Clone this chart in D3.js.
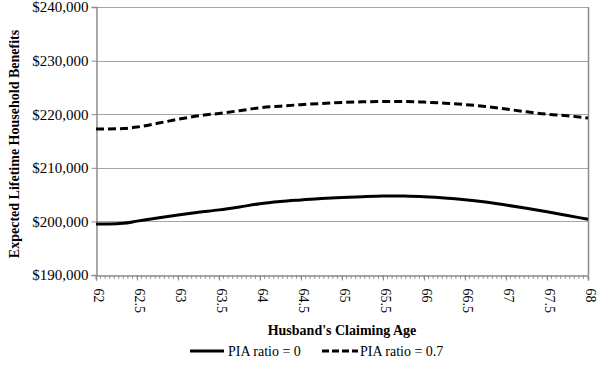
<!DOCTYPE html>
<html>
<head>
<meta charset="utf-8">
<script src="https://cdn.jsdelivr.net/npm/d3@7"></script>
<style>
  html, body { margin: 0; padding: 0; background: #fff; }
  svg { display: block; }
  text { font-family: "Liberation Serif", "Times New Roman", serif; fill: #000; }
</style>
</head>
<body>
<svg id="chart" width="600" height="366"></svg>
<script>
// ---- data ----
const ages = [62, 62.25, 62.333, 62.5, 62.75, 63, 63.25, 63.5, 63.75, 64, 64.25, 64.5, 64.75,
              65, 65.25, 65.5, 65.75, 66, 66.25, 66.5, 66.75, 67, 67.25, 67.5, 67.75, 68];
const piaRatio0 = [199500, 199550, 199650, 200050, 200650, 201200, 201700, 202150, 202700, 203300,
                   203700, 204000, 204280, 204480, 204620, 204720, 204740, 204600, 204380, 204050,
                   203600, 203050, 202450, 201800, 201100, 200400];
const piaRatio07 = [217250, 217280, 217330, 217600, 218300, 219050, 219700, 220150, 220650, 221200,
                    221500, 221780, 222000, 222180, 222300, 222380, 222390, 222260, 222050, 221800,
                    221450, 220950, 220450, 220000, 219700, 219300];
const seriesNames = ["PIA ratio = 0", "PIA ratio = 0.7"];
const yTicks = [190000, 200000, 210000, 220000, 230000, 240000];
const xTickLabels = [62, 62.5, 63, 63.5, 64, 64.5, 65, 65.5, 66, 66.5, 67, 67.5, 68];
const xTitle = "Husband's Claiming Age";
const yTitle = "Expected Lifetime Household Benefits";

// ---- layout ----
const svg = d3.select("#chart");
const L = 96, R = 588, T = 7, B = 275;
const x = d3.scaleLinear().domain([62, 68]).range([L, R]);
const y = d3.scaleLinear().domain([190000, 240000]).range([B, T]);

// gridlines
svg.append("g").selectAll("line").data(yTicks.slice(1)).join("line")
  .attr("x1", L).attr("x2", R)
  .attr("y1", d => Math.round(y(d)) + 0.5).attr("y2", d => Math.round(y(d)) + 0.5)
  .attr("stroke", "#a6a6a6").attr("stroke-width", 1);

// right border
svg.append("line").attr("x1", R + 0.5).attr("x2", R + 0.5).attr("y1", T).attr("y2", B)
  .attr("stroke", "#8c8c8c").attr("stroke-width", 1.5);

// y axis
const yAxis = d3.axisLeft(y).tickValues(yTicks).tickSize(5).tickPadding(3)
  .tickFormat(d => "$" + d3.format(",")(d));
const gy = svg.append("g").attr("transform", `translate(${L + 0.5},0)`).call(yAxis);
gy.select(".domain").attr("stroke", "#8c8c8c").attr("stroke-width", 1.5);
gy.selectAll(".tick line").attr("stroke", "#8c8c8c");
gy.selectAll(".tick text").style("font-size", "15px").style("font-family", "Liberation Serif").attr("fill", "#000");

// x axis minor ticks
const minor = d3.range(0, 109).map(i => 62 + i * 6 / 108);
svg.append("g").selectAll("line").data(minor).join("line")
  .attr("x1", d => x(d)).attr("x2", d => x(d)).attr("y1", B).attr("y2", B + 4)
  .attr("stroke", "#9a9a9a").attr("stroke-width", 1);

const xAxis = d3.axisBottom(x).tickValues(xTickLabels).tickSize(5).tickFormat(d => String(d));
const gx = svg.append("g").attr("transform", `translate(0,${B + 0.5})`).call(xAxis);
gx.select(".domain").attr("stroke", "#8c8c8c").attr("stroke-width", 1.5);
gx.selectAll(".tick line").attr("stroke", "#8c8c8c");
gx.selectAll(".tick text")
  .style("font-size", "14px").style("font-family", "Liberation Serif").attr("fill", "#000")
  .attr("transform", "rotate(90)").attr("text-anchor", "start")
  .attr("x", 13).attr("y", 0).attr("dy", "0.2em");

// lines
const line = d3.line().x((d, i) => x(ages[i])).y(d => y(d)).curve(d3.curveMonotoneX);
svg.append("path").datum(piaRatio0).attr("d", line)
  .attr("fill", "none").attr("stroke", "#000").attr("stroke-width", 3);
svg.append("path").datum(piaRatio07).attr("d", line)
  .attr("fill", "none").attr("stroke", "#000").attr("stroke-width", 3)
  .attr("stroke-dasharray", "8,4");

// titles
svg.append("text").attr("x", 342).attr("y", 335).attr("text-anchor", "middle")
  .style("font-size", "14px").style("font-weight", "bold").text(xTitle);
svg.append("text").attr("transform", `translate(19,144) rotate(-90)`)
  .attr("text-anchor", "middle")
  .style("font-size", "14px").style("font-weight", "bold").text(yTitle);

// legend
const lg = svg.append("g");
lg.append("line").attr("x1", 190).attr("x2", 224).attr("y1", 351).attr("y2", 351)
  .attr("stroke", "#000").attr("stroke-width", 3);
lg.append("text").attr("x", 228).attr("y", 356).style("font-size", "14px").text(seriesNames[0]);
lg.append("line").attr("x1", 322).attr("x2", 358).attr("y1", 351).attr("y2", 351)
  .attr("stroke", "#000").attr("stroke-width", 3).attr("stroke-dasharray", "7,3");
lg.append("text").attr("x", 360).attr("y", 356).style("font-size", "14px").text(seriesNames[1]);
</script>
</body>
</html>
